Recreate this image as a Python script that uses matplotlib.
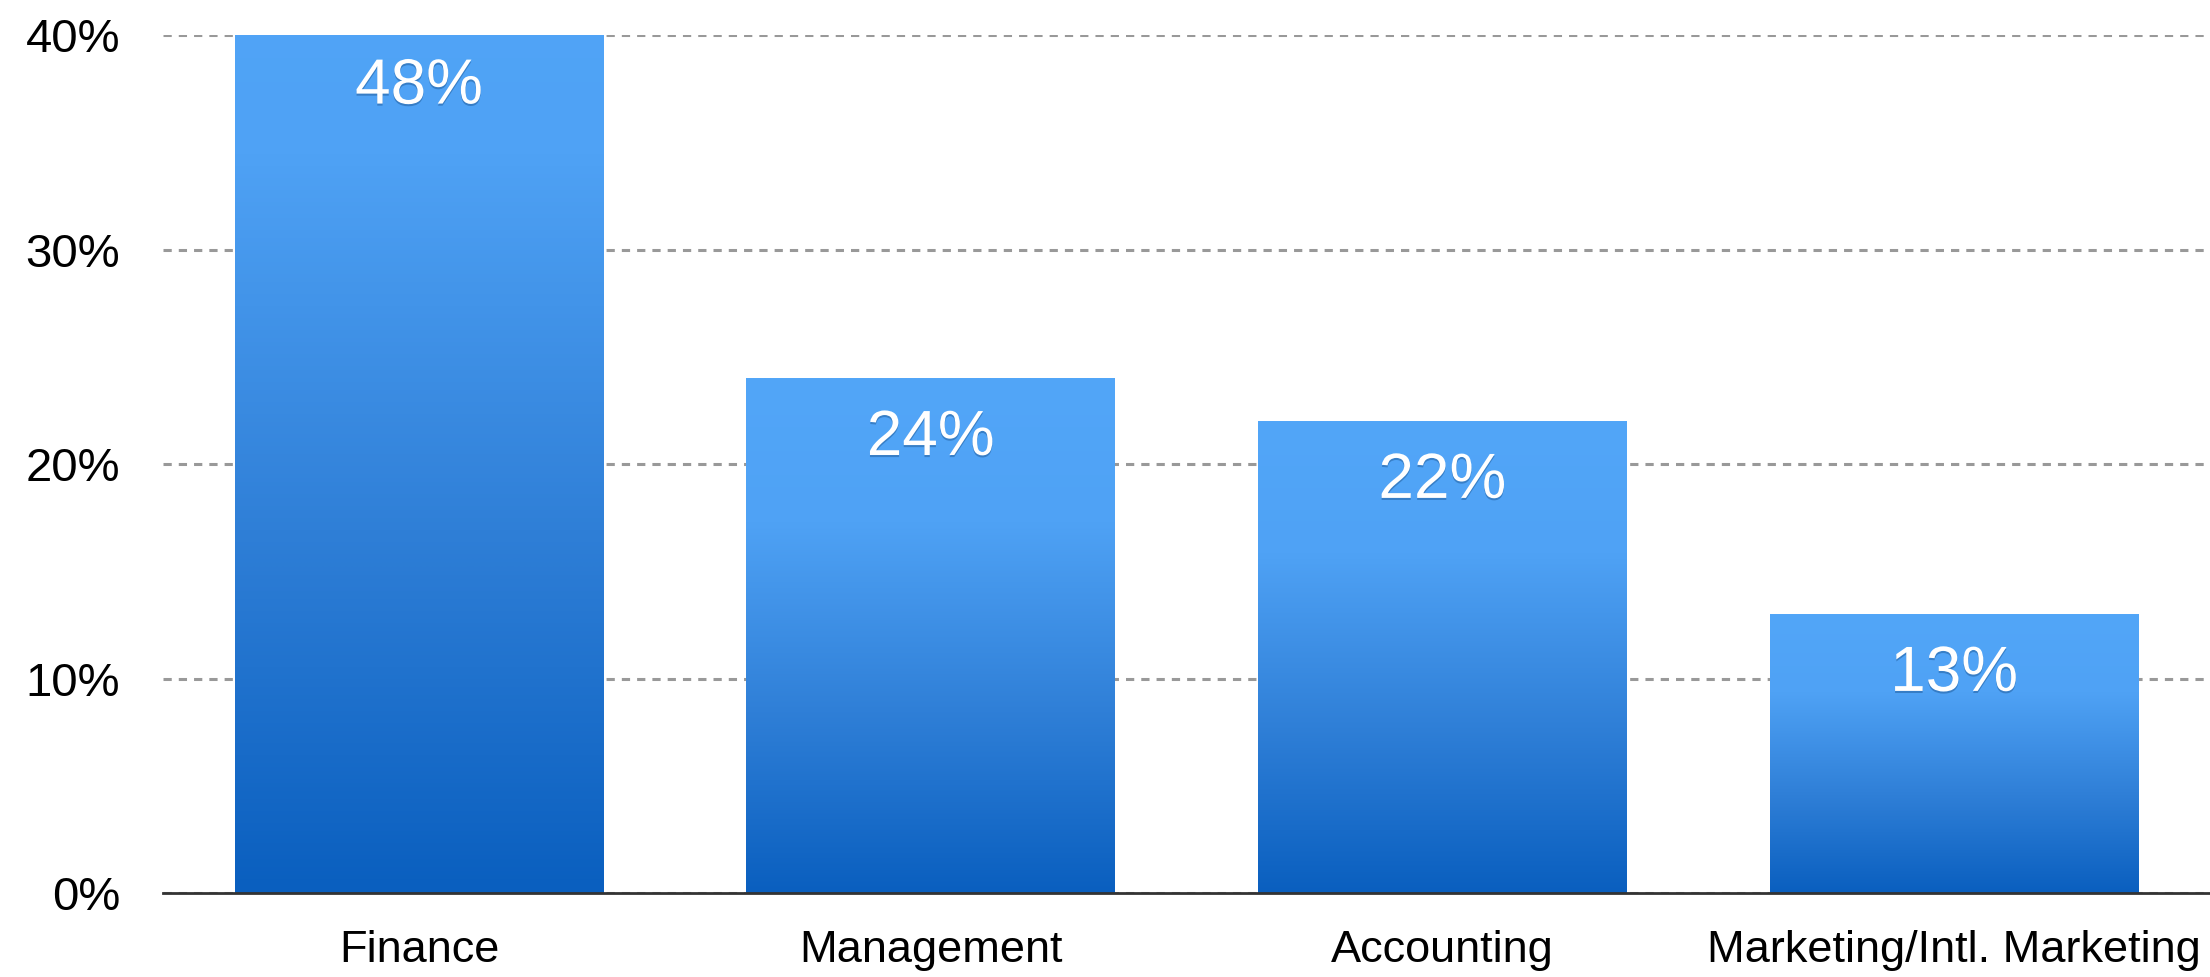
import matplotlib.pyplot as plt
import matplotlib.patheffects as pe
import numpy as np
from matplotlib.colors import LinearSegmentedColormap

categories = ['Finance', 'Management', 'Accounting', 'Marketing/Intl. Marketing']
shares = [48, 24, 22, 13]
y_ticks = [0, 10, 20, 30, 40]
y_max = 40

plt.rcParams['font.family'] = ['Liberation Sans', 'DejaVu Sans']

fig = plt.figure(figsize=(22.1, 9.77), dpi=100)
ax = fig.add_axes([0.0738, 0.086, 0.9262, 0.878])

# dark at the bottom, light in the upper part of each bar
cmap = LinearSegmentedColormap.from_list(
    'bar', [(0, '#0A5FBF'), (0.35, '#2F7FD7'), (0.72, '#4FA2F5'), (1, '#52A6F8')])
grad = np.linspace(0, 1, 256).reshape(-1, 1)

x = np.arange(len(categories))
bars = ax.bar(x, shares, width=0.72, color='none', edgecolor='none', zorder=2)

for b, v in zip(bars, shares):
    h = min(v, y_max)
    img = ax.imshow(grad, cmap=cmap, origin='lower', aspect='auto',
                    extent=[b.get_x(), b.get_x() + b.get_width(), 0, v],
                    zorder=2, interpolation='bilinear')
    img.set_clip_path(ax.patch)
    # the clipped bar keeps its label a bit closer to the top
    off = -37 if v > y_max else -43
    ax.annotate(f'{v}%', (b.get_x() + b.get_width() / 2, h),
                xytext=(0, off), textcoords='offset points',
                ha='center', va='center', color='white', fontsize=46, zorder=4,
                path_effects=[pe.withSimplePatchShadow(offset=(0, -1.5),
                                                      shadow_rgbFace='#0a3a70', alpha=0.35)])

ax.set_xlim(-0.5, 3.5)
ax.set_ylim(0, y_max)
ax.set_xticks(x)
ax.set_xticklabels(categories)
ax.set_yticks(y_ticks)
ax.set_yticklabels([f'{t}%' for t in y_ticks])

ax.tick_params(axis='x', length=0, pad=27, labelsize=32.5)
ax.tick_params(axis='y', length=0, pad=31, labelsize=34)

ax.yaxis.grid(True, color='#999999', linestyle=(0, (2.7, 2.3)), linewidth=2.2)
ax.set_axisbelow(True)

for s in ['left', 'top', 'right']:
    ax.spines[s].set_visible(False)
ax.spines['bottom'].set_color('#333333')
ax.spines['bottom'].set_linewidth(2.0)
ax.spines['bottom'].set_zorder(5)

fig.savefig('out.png', dpi=100)
